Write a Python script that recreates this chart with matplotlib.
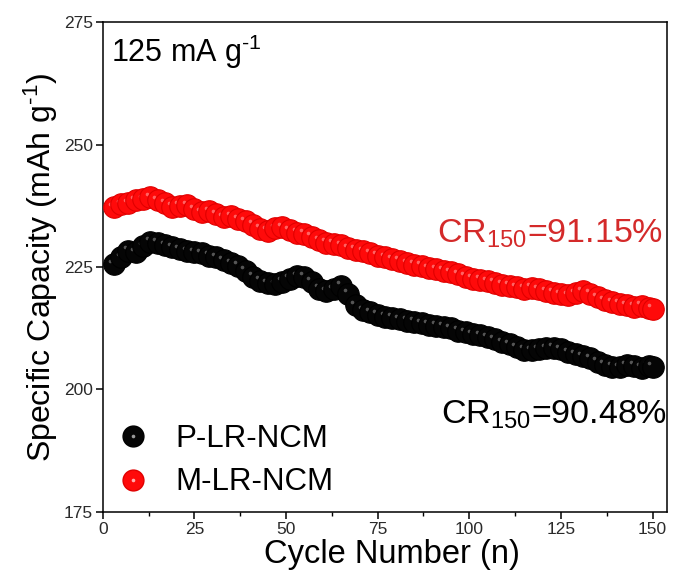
import matplotlib
matplotlib.use('Agg')
import matplotlib.pyplot as plt
from matplotlib.lines import Line2D
from matplotlib.transforms import offset_copy

plt.rcParams['font.family'] = ['Liberation Sans', 'DejaVu Sans']
plt.rcParams['mathtext.fontset'] = 'custom'
plt.rcParams['mathtext.rm'] = 'Liberation Sans'
plt.rcParams['mathtext.it'] = 'Liberation Sans:italic'

# cycle numbers
cycles = [3, 5, 7, 9, 11, 13, 15, 17, 19, 21, 23, 25, 27, 29, 31, 33, 35, 37, 39,
          41, 43, 45, 47, 49, 51, 53, 55, 57, 59, 61, 63, 65, 67, 69, 71, 73, 75,
          77, 79, 81, 83, 85, 87, 89, 91, 93, 95, 97, 99, 101, 103, 105, 107, 109,
          111, 113, 115, 117, 119, 121, 123, 125, 127, 129, 131, 133, 135, 137,
          139, 141, 143, 145, 147, 149, 150]

# P-LR-NCM capacity (mAh/g)
p_lr_ncm = [225.6, 227.0, 228.3, 228.0, 229.2, 230.2, 230.0, 229.4, 229.0, 228.6,
            228.2, 228.0, 227.8, 227.3, 227.0, 226.4, 225.8, 225.3, 224.2, 223.0,
            222.2, 221.7, 221.5, 222.0, 222.6, 223.1, 223.0, 222.0, 220.6, 220.0,
            220.5, 221.2, 219.5, 217.2, 216.2, 215.8, 215.3, 214.8, 214.6, 214.3,
            214.0, 213.8, 213.5, 213.2, 213.0, 212.8, 212.5, 212.0, 211.7, 211.3,
            211.1, 210.7, 210.2, 209.6, 209.2, 208.6, 208.1, 208.0, 208.2, 208.4,
            208.5, 208.2, 207.6, 207.2, 206.8, 206.4, 205.7, 205.0, 204.6, 204.5,
            204.9, 204.8, 204.4, 204.8, 204.6]

# M-LR-NCM capacity (mAh/g)
m_lr_ncm = [237.2, 237.8, 238.0, 238.6, 238.8, 239.3, 238.6, 238.0, 237.3, 237.5,
            237.6, 236.8, 236.2, 236.4, 235.8, 235.2, 235.4, 234.8, 234.3, 233.6,
            232.8, 232.4, 232.9, 233.1, 232.5, 232.0, 231.8, 231.2, 230.5, 230.0,
            229.8, 229.5, 228.8, 228.5, 228.2, 227.8, 227.3, 227.0, 226.6, 226.3,
            225.8, 225.5, 225.3, 224.8, 224.5, 224.2, 223.9, 223.5, 223.0, 222.6,
            222.4, 222.1, 221.8, 221.4, 221.2, 220.9, 220.6, 220.8, 220.5, 220.1,
            219.7, 219.4, 219.2, 219.6, 220.1, 219.5, 218.8, 218.2, 217.8, 217.5,
            217.2, 216.9, 217.1, 216.6, 216.5]

fig = plt.figure(figsize=(6.76, 5.83), dpi=100)
ax = fig.add_axes([0.152, 0.122, 0.835, 0.840])

hl_tr = offset_copy(ax.transData, fig=fig, x=-2.5, y=2.5, units='points')


# draw shaded "balls" one by one so later ones cover earlier highlights
def balls(xs, ys, color, edge, light, z0):
    for i, (x, y) in enumerate(zip(xs, ys)):
        z = z0 + i * 0.002
        ax.plot(x, y, 'o', ms=15.5, color=color, mec=edge, mew=0.8, zorder=z)
        ax.plot(x, y, 'o', ms=2.6, color=light, mew=0, alpha=0.55,
                transform=hl_tr, zorder=z + 0.001)


balls(cycles, p_lr_ncm, '#050505', '#000000', '#9a9a9a', 2)
balls(cycles, m_lr_ncm, '#ff0a0a', '#e00000', '#ffb0b0', 3)

ax.set_xlim(0, 154)
ax.set_ylim(175, 275)
ax.set_xticks([0, 25, 50, 75, 100, 125, 150])
ax.set_xticks([12.5, 37.5, 62.5, 87.5, 112.5, 137.5], minor=True)
ax.set_yticks([175, 200, 225, 250, 275])
ax.tick_params(axis='both', which='major', direction='out', length=5, width=1.1,
               labelsize=12.5, labelcolor='#2a2a2a', pad=2)
ax.tick_params(axis='x', which='minor', direction='out', length=3, width=1.0)
for s in ax.spines.values():
    s.set_linewidth(1.1)

ax.set_xlabel('Cycle Number (n)', fontsize=23.5, labelpad=0)
ax.xaxis.set_label_coords(0.513, -0.055)
ax.set_ylabel(r'Specific Capacity (mAh g$^{\text{-1}}$)', fontsize=23, labelpad=3)

ax.text(0.015, 0.94, r'125 mA g$^{\text{-1}}$', transform=ax.transAxes, fontsize=22,
        va='center', ha='left')
ax.text(0.993, 0.568, r'CR$_{150}$=91.15%', transform=ax.transAxes, fontsize=24.5,
        color='#d42a2a', va='center', ha='right')
ax.text(1.0, 0.198, r'CR$_{150}$=90.48%', transform=ax.transAxes, fontsize=24.5,
        color='black', va='center', ha='right')

h1 = (Line2D([], [], ls='none', marker='o', ms=15, color='#050505', mec='#000000'),
      Line2D([], [], ls='none', marker='o', ms=2.6, color='#9a9a9a', mew=0))
h2 = (Line2D([], [], ls='none', marker='o', ms=15, color='#ff0a0a', mec='#e00000'),
      Line2D([], [], ls='none', marker='o', ms=2.6, color='#ffb0b0', mew=0))
ax.legend([h1, h2], ['P-LR-NCM', 'M-LR-NCM'], loc='lower left', frameon=False,
          fontsize=22.5, handlelength=1.0, handletextpad=0.85, labelspacing=0.42,
          borderpad=0.2, borderaxespad=0.26)

fig.savefig('out.png', dpi=100)
